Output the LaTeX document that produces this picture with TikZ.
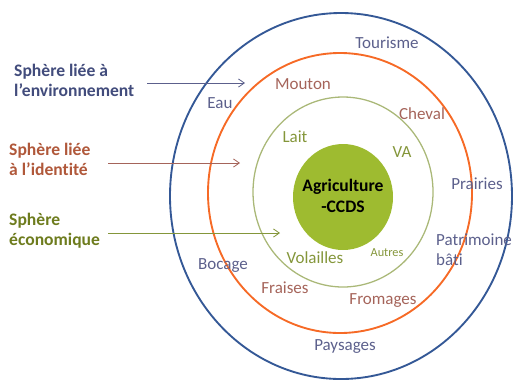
\documentclass[tikz,border=0pt]{standalone}
\usepackage{fontspec}
\setmainfont{Carlito}[Ligatures=NoCommon]
\usetikzlibrary{arrows.meta}
\definecolor{envblue}{RGB}{52,88,150}
\definecolor{idorange}{RGB}{246,106,38}
\definecolor{ecoline}{RGB}{170,184,120}
\definecolor{ecofill}{RGB}{158,187,48}
\definecolor{envtext}{RGB}{92,96,140}
\definecolor{idtext}{RGB}{165,100,90}
\definecolor{ecotext}{RGB}{132,150,58}
\definecolor{envhead}{RGB}{66,76,124}
\definecolor{idhead}{RGB}{176,88,58}
\definecolor{ecohead}{RGB}{110,124,30}
\tikzset{
  lbl/.style={font=\fontsize{14.5}{17}\selectfont,inner sep=0pt},
  head/.style={font=\bfseries\fontsize{15}{17}\selectfont,align=left,anchor=north west,inner sep=0pt},
  pointer/.style={->,line width=0.7pt}
}

\begin{document}
\begin{tikzpicture}[x=0.03cm,y=-0.03cm,>={Straight Barb[length=5pt,width=7pt]}]
\useasboundingbox (0,0) rectangle (514,379);
% ---- nested spheres ----
\draw[envblue,line width=1.6pt] (341,196) ellipse [x radius=171,y radius=183];
\draw[idorange,line width=1.6pt] (340,193) ellipse [x radius=132,y radius=140];
\draw[ecoline,line width=1.1pt] (343,192) ellipse [x radius=90,y radius=95];
\fill[ecofill] (343,197) ellipse [x radius=50,y radius=53];
\node[font=\bfseries\fontsize{15}{18}\selectfont,align=center,inner sep=0pt] (core) at (343,196) {Agriculture\\-CCDS};
% ---- sphere headings on the left ----
\node[head,envhead] (env) at (14,64) {Sphère liée à\\l’environnement};
\node[head,idhead] (ident) at (9,143) {Sphère liée\\à l’identité};
\node[head,ecohead] (eco) at (9,213) {Sphère\\économique};
\coordinate (envA) at (147,83);  \coordinate (envB) at (245,83);
\coordinate (idA) at (108,163);  \coordinate (idB) at (240,163);
\coordinate (ecoA) at (108,233); \coordinate (ecoB) at (280,233);
\draw[pointer,envtext] (envA) -- (envB);
\draw[pointer,idtext] (idA) -- (idB);
\draw[pointer,ecotext] (ecoA) -- (ecoB);
% ---- environment ring ----
\node[lbl,envtext] (tour) at (387,43) {Tourisme};
\node[lbl,envtext] (eau) at (220,103) {Eau};
\node[lbl,envtext] (prair) at (477,184) {Prairies};
\node[lbl,envtext,align=left,anchor=west,font=\fontsize{14.5}{17}\selectfont] (patri) at (436,250) {Patrimoine\\bâti};
\node[lbl,envtext] (boc) at (223,265) {Bocage};
\node[lbl,envtext] (pays) at (345,346) {Paysages};
% ---- identity ring ----
\node[lbl,idtext] (mout) at (303,84) {Mouton};
\node[lbl,idtext] (chev) at (422,114) {Cheval};
\node[lbl,idtext] (frai) at (285,288) {Fraises};
\node[lbl,idtext] (from) at (383,300) {Fromages};
% ---- economic ring ----
\node[lbl,ecotext] (lait) at (295,137) {Lait};
\node[lbl,ecotext] (va) at (402,152) {VA};
\node[lbl,ecotext] (vol) at (315,258) {Volailles};
\node[lbl,ecotext,font=\fontsize{10.5}{12}\selectfont] (autr) at (387,253) {Autres};
\end{tikzpicture}
\end{document}
